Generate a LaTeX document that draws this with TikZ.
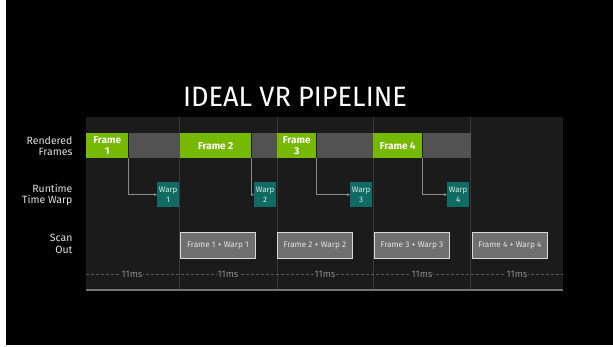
\documentclass[tikz,border=0pt]{standalone}
\usepackage{fontspec}
\setmainfont{Fira Sans}
\newfontfamily\titlefont[FakeStretch=0.97]{Fira Sans}
\usetikzlibrary{arrows.meta,positioning}
\definecolor{nvgreen}{HTML}{76B900}
\definecolor{chartbg}{HTML}{1B1B1B}
\definecolor{waitgray}{HTML}{525252}
\definecolor{warpteal}{HTML}{0F6B63}
\definecolor{scangray}{HTML}{6F6F6F}
\definecolor{divider}{HTML}{3A3A3A}
\definecolor{labeltext}{HTML}{E2E2E2}

\begin{document}
\begin{tikzpicture}[
    x=1pt, y=-1pt,
    >={Stealth[length=3pt,width=3pt]},
    framebox/.style={fill=nvgreen, inner sep=0pt, anchor=north west,
                     minimum height=25pt, align=center, text=white,
                     font=\fontsize{10}{11}\selectfont\bfseries},
    waitbox/.style={fill=waitgray, inner sep=0pt, anchor=north west,
                    minimum height=25pt},
    warpbox/.style={fill=warpteal, inner sep=0pt, anchor=north west,
                    minimum width=22pt, minimum height=25pt, align=center,
                    text=white!85!warpteal, font=\fontsize{8}{9.5}\selectfont},
    scanbox/.style={fill=scangray, draw=white!85!black, line width=0.8pt,
                    inner sep=0pt, anchor=north west, minimum width=75pt,
                    minimum height=26pt, text=white!90!black,
                    font=\fontsize{8.2}{9}\selectfont},
    rowlabel/.style={align=right, anchor=east, text=labeltext,
                     font=\fontsize{10.5}{11.5}\selectfont},
    mslabel/.style={fill=chartbg, inner sep=1pt, text=white!55!black,
                    font=\fontsize{9.5}{10}\selectfont},
    warplink/.style={->, draw=white!55!black, line width=0.8pt},
]

% ── Canvas ──
\useasboundingbox (0,0) rectangle (613,347);
\fill[white] (0,0) rectangle (613,347);
\fill[black] (6,0) rectangle (613,345);

% ── Title ──
\node[text=white, font=\titlefont\fontsize{28}{30}\selectfont] (title) at (295,97) {IDEAL VR PIPELINE};

% ── Chart area and column dividers ──
\fill[chartbg] (86,117) rectangle (563,290);
\foreach \x in {179,277,373,470} {
    \draw[divider, line width=0.8pt] (\x,117) -- (\x,290);
}
\draw[white!45!black, line width=1.5pt] (86,290) -- (563,290);

% ── Row labels ──
\node[rowlabel] (lrender) at (76,146) {Rendered\\Frames};
\node[rowlabel] (lwarp) at (76,195) {Runtime\\Time Warp};
\node[rowlabel] (lscan) at (76,244) {Scan\\Out};

% ── Rendered frames ──
\node[framebox, minimum width=42pt] (f1) at (86,133) {Frame\\1};
\node[waitbox, minimum width=51pt] (g1) at (f1.north east) {};
\node[framebox, minimum width=71pt] (f2) at (180,133) {Frame 2};
\node[waitbox, minimum width=26pt] (g2) at (f2.north east) {};
\node[framebox, minimum width=39pt] (f3) at (277,133) {Frame\\3};
\node[waitbox, minimum width=57pt] (g3) at (f3.north east) {};
\node[framebox, minimum width=49pt] (f4) at (373,133) {Frame 4};
\node[waitbox, minimum width=48pt] (g4) at (f4.north east) {};

% ── Time warp ──
\node[warpbox] (w1) at (157,182) {Warp\\1};
\node[warpbox] (w2) at (254,182) {Warp\\2};
\node[warpbox] (w3) at (350,182) {Warp\\3};
\node[warpbox] (w4) at (447,182) {Warp\\4};
\foreach \i in {1,...,4} {
    \draw[warplink] (f\i.south east) |- (w\i.west);
}

% ── Scan out ──
\foreach \i/\x in {1/180,2/277,3/374,4/472} {
    \node[scanbox] (s\i) at (\x,232) {Frame \i\ + Warp \i};
}

% ── 11ms ticks ──
\coordinate (tl) at (86,274);
\coordinate (tr) at (563,274);
\draw[white!35!black, dashed, dash pattern=on 3pt off 2pt, line width=0.6pt] (tl) -- (tr);
\foreach \x [count=\k] in {132,228,325,422,517} {
    \node[mslabel] (ms\k) at (\x,274) {11ms};
}

\end{tikzpicture}
\end{document}
